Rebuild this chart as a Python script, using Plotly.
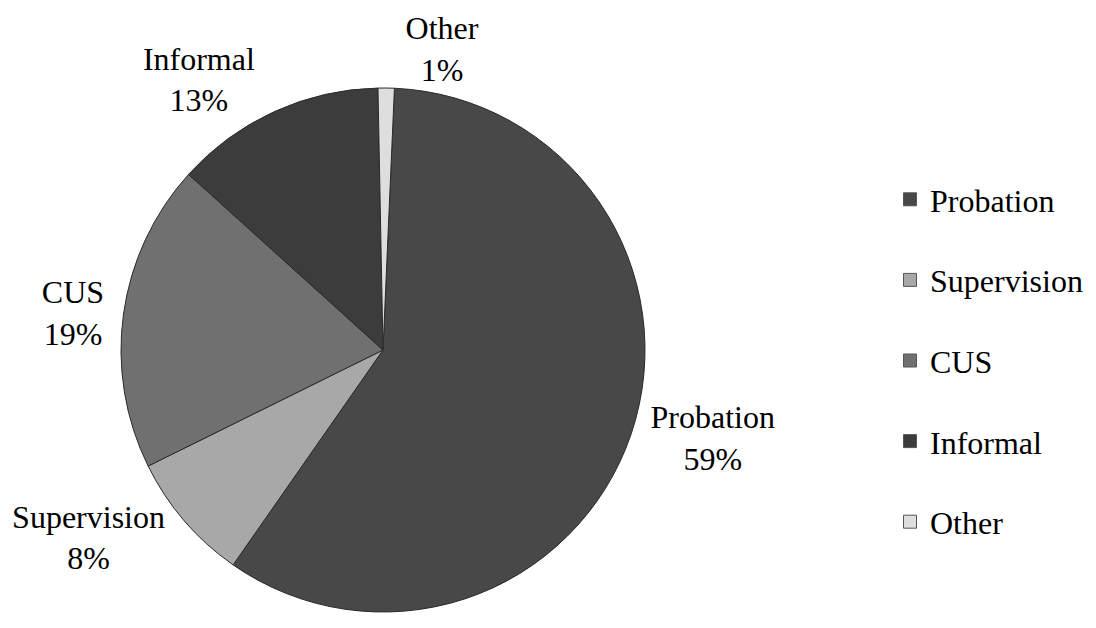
import plotly.graph_objects as go

categories = ["Probation", "Supervision", "CUS", "Informal", "Other"]
values = [59, 8, 19, 13, 1]
colors = ["#484848", "#a8a8a8", "#707070", "#3c3c3c", "#dedede"]

W, H = 1096, 628
FONT = "Liberation Serif"

fig = go.Figure()
fig.add_trace(go.Pie(
    labels=categories,
    values=values,
    sort=False,
    direction="clockwise",
    rotation=2.5,
    automargin=False,
    marker=dict(colors=colors, line=dict(color="#2a2a2a", width=1)),
    textposition="outside",
    texttemplate="%{label}<br>%{value}%",
    textfont=dict(family=FONT, size=32, color="#000000"),
    showlegend=False,
    hoverinfo="label+percent",
    domain=dict(x=[113 / W, 637 / W], y=[24 / H, 548 / H]),
))

for name, col in zip(categories, colors):
    fig.add_trace(go.Scatter(
        x=[None], y=[None], mode="markers", name=name,
        legendgroup=name,
        marker=dict(symbol="square", size=13, color=col,
                    line=dict(color="#555555", width=1)),
    ))

fig.update_layout(
    width=W, height=H,
    margin=dict(l=0, r=0, t=0, b=0, autoexpand=False),
    paper_bgcolor="white", plot_bgcolor="white",
    xaxis=dict(visible=False), yaxis=dict(visible=False),
    legend=dict(
        x=882 / W, y=1 - 164 / H, xanchor="left", yanchor="top",
        font=dict(family=FONT, size=32, color="#000000"),
        traceorder="grouped", tracegroupgap=36,
        itemwidth=30, bgcolor="rgba(0,0,0,0)",
    ),
    showlegend=True,
)

fig.write_html("out.html")
